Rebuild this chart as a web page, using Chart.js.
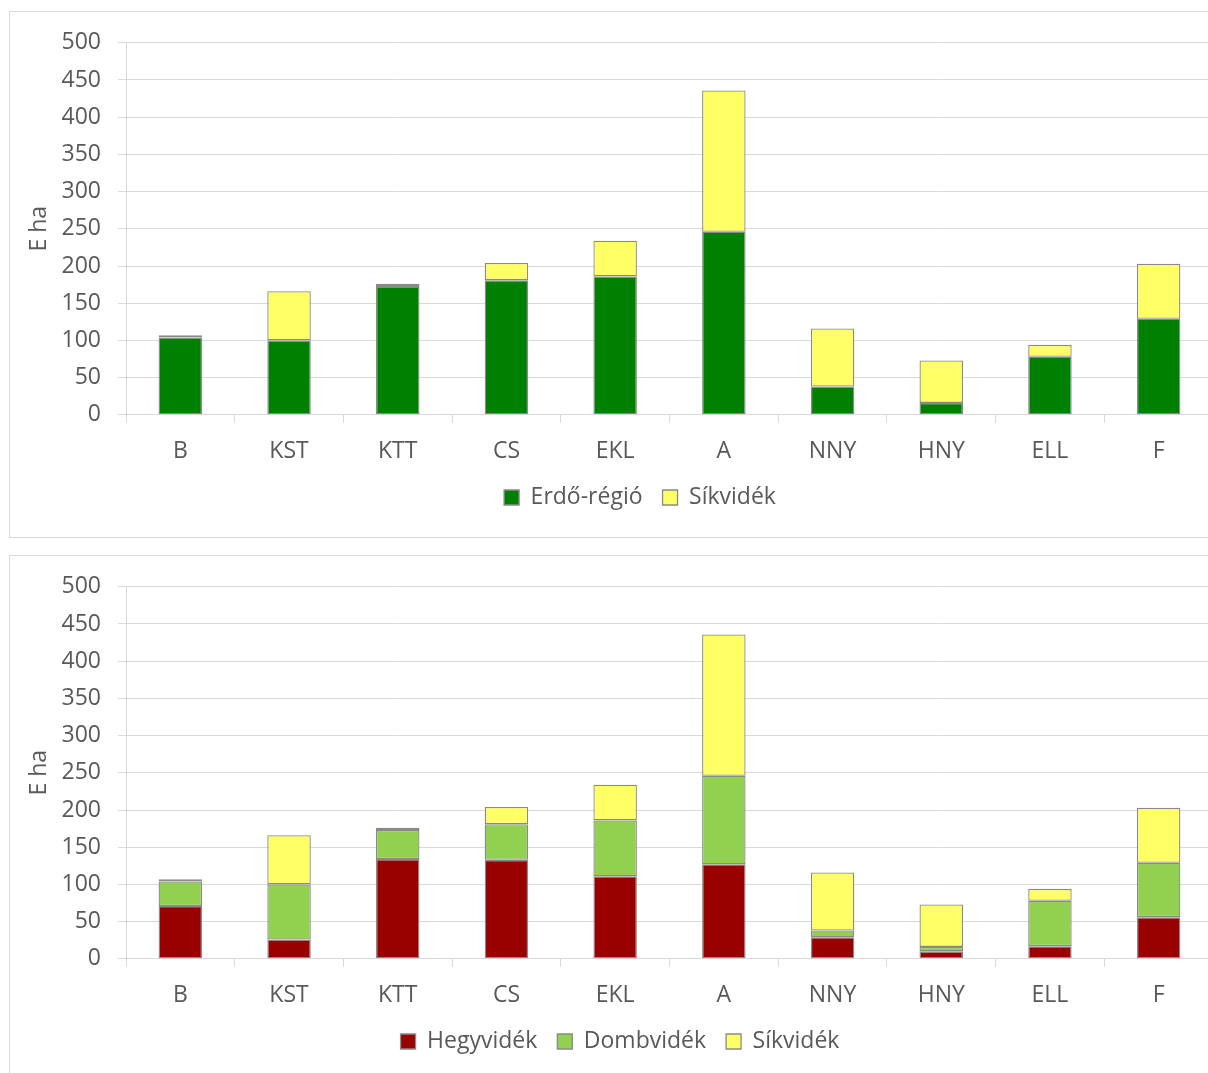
<!DOCTYPE html>
<html>
<head>
<meta charset="utf-8">
<script src="https://cdn.jsdelivr.net/npm/chart.js@4/dist/chart.umd.min.js"></script>
<style>
    html, body { margin: 0; padding: 0; background: #fff; overflow: hidden; }
    .box { position: absolute; left: 9px; width: 1260px; height: 525px; border: 1px solid #d9d9d9; }
    .box canvas { display: block; }
</style>
</head>
<body>
<div class="box" style="top: 11px;"><canvas id="chartTop" width="1260" height="525"></canvas></div>
<div class="box" style="top: 555px;"><canvas id="chartBottom" width="1260" height="525"></canvas></div>
<script>
// Data (E ha)
const categories = ['B', 'KST', 'KTT', 'CS', 'EKL', 'A', 'NNY', 'HNY', 'ELL', 'F'];
const erdoRegio  = [104, 100, 173, 181, 186, 246, 38, 16, 78, 129];
const sikvidek   = [3, 66, 3, 23, 48, 190, 78, 57, 16, 74];
const hegyvidek  = [71, 26, 134, 133, 111, 127, 29, 10, 17, 56];
const dombvidek  = [33, 74, 39, 48, 75, 119, 9, 6, 61, 73];
const yTicks = { min: 0, max: 500, step: 50 };

const TEXT = '#595959';
const GRID = '#d9d9d9';
const EDGE = '#8a8a8a';
const FONT = { family: '"Open Sans", sans-serif', size: 23 };

Chart.defaults.font = FONT;
Chart.defaults.color = TEXT;
Chart.defaults.animation = false;

function barSet(label, data, color) {
    return {
        label: label,
        data: data,
        backgroundColor: color,
        borderColor: EDGE,
        borderWidth: 1.3,
        borderSkipped: false,
        barPercentage: 0.4,
        categoryPercentage: 1.0
    };
}

// padRight + spacer = 57 keeps the plot edge; padRight moves the legend centre
function makeOptions(padRight) {
    return {
        responsive: false,
        layout: { padding: { top: 29, right: padRight, bottom: 18, left: 0 } },
        scales: {
            x: {
                stacked: true,
                grid: { display: true, drawOnChartArea: false, drawTicks: true, tickLength: 8, color: GRID, offset: true },
                border: { display: true, color: GRID },
                ticks: { padding: 15, color: TEXT, font: FONT },
                afterFit: (scale) => { scale.height -= 14.4; }
            },
            y: {
                stacked: true,
                min: yTicks.min,
                max: yTicks.max,
                grid: { color: GRID, tickLength: 8 },
                border: { display: true, color: GRID },
                ticks: { stepSize: yTicks.step, padding: 17, color: TEXT, font: FONT },
                title: { display: true, text: 'E ha', color: TEXT, font: FONT, padding: { top: 16, bottom: 0 } },
                afterFit: (scale) => { scale.width = 116; }
            },
            spacer: {
                position: 'right',
                grid: { display: false },
                border: { display: false },
                ticks: { display: false },
                afterFit: (scale) => { scale.width = 57 - padRight; }
            }
        },
        plugins: {
            legend: {
                position: 'bottom',
                labels: { boxWidth: 15, boxHeight: 15, padding: 20, color: TEXT, font: FONT }
            },
            tooltip: { enabled: false }
        }
    };
}

new Chart(document.getElementById('chartTop'), {
    type: 'bar',
    data: {
        labels: categories,
        datasets: [
            barSet('Erdő-régió', erdoRegio, '#008000'),
            barSet('Síkvidék', sikvidek, '#ffff66')
        ]
    },
    options: makeOptions(0)
});

new Chart(document.getElementById('chartBottom'), {
    type: 'bar',
    data: {
        labels: categories,
        datasets: [
            barSet('Hegyvidék', hegyvidek, '#990000'),
            barSet('Dombvidék', dombvidek, '#92d050'),
            barSet('Síkvidék', sikvidek, '#ffff66')
        ]
    },
    options: makeOptions(40)
});
</script>
</body>
</html>
